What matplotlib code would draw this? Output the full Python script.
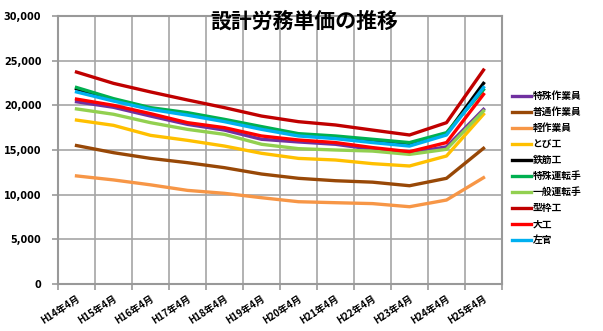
import matplotlib
matplotlib.use('Agg')
import matplotlib.pyplot as plt
from matplotlib.ticker import FuncFormatter

plt.rcParams['font.family'] = ['Noto Sans CJK JP', 'DejaVu Sans']

years = ['H14年4月', 'H15年4月', 'H16年4月', 'H17年4月', 'H18年4月', 'H19年4月',
         'H20年4月', 'H21年4月', 'H22年4月', 'H23年4月', 'H24年4月', 'H25年4月']

tokushu_sagyo = [20400, 19780, 18800, 17870, 17230, 16200, 15900, 15640, 15080, 14700, 15350, 19550]
futsu_sagyo = [15500, 14700, 14060, 13580, 13020, 12310, 11830, 11560, 11400, 11000, 11830, 15190]
kei_sagyo = [12100, 11650, 11100, 10480, 10150, 9660, 9210, 9100, 9000, 8650, 9400, 11900]
tobi = [18350, 17760, 16640, 16080, 15440, 14630, 14060, 13880, 13470, 13210, 14330, 19000]
tekkin = [21850, 20600, 19650, 19050, 18300, 17450, 16700, 16400, 16000, 15640, 16800, 22460]
tokushu_unten = [22000, 20750, 19740, 19180, 18430, 17620, 16830, 16570, 16200, 15830, 16940, 21750]
ippan_unten = [19600, 19000, 18060, 17310, 16750, 15640, 15150, 15000, 14880, 14510, 15080, 19370]
katawaku = [23726, 22460, 21500, 20600, 19740, 18800, 18170, 17800, 17230, 16680, 18060, 23950]
daiku = [20700, 20000, 19070, 18060, 17500, 16570, 16120, 15830, 15270, 14810, 15830, 21230]
sakan = [21500, 20480, 19550, 18900, 18170, 17310, 16570, 16270, 15830, 15440, 16680, 22000]

names = ['特殊作業員', '普通作業員', '軽作業員', 'とび工', '鉄筋工',
         '特殊運転手', '一般運転手', '型枠工', '大工', '左官']
series = [tokushu_sagyo, futsu_sagyo, kei_sagyo, tobi, tekkin,
          tokushu_unten, ippan_unten, katawaku, daiku, sakan]
colors = ['#7030A0', '#984807', '#F79646', '#FFC000', '#000000',
          '#00B050', '#92D050', '#C00000', '#FF0000', '#00B0F0']

fig = plt.figure(figsize=(6.03, 3.31), dpi=100)
ax = fig.add_axes([58 / 603, 1 - 284 / 331, 444 / 603, 268 / 331])

x = list(range(len(years)))
for vals, name, c in zip(series, names, colors):
    ax.plot(x, vals, color=c, lw=2.4, label=name)

ax.set_xlim(-0.5, len(years) - 0.5)
ax.set_ylim(0, 30000)
ax.set_yticks(range(0, 30001, 5000))
ax.yaxis.set_major_formatter(FuncFormatter(lambda v, p: f'{int(v):,}'))
ax.set_xticks(x)
ax.set_xticks([i - 0.5 for i in range(len(years) + 1)], minor=True)
ax.set_xticklabels(years, rotation=33, ha='right', va='top',
                   rotation_mode='anchor', fontsize=7, fontweight='bold')
for lab in ax.get_yticklabels():
    lab.set_family('DejaVu Sans')
    lab.set_fontweight('bold')
    lab.set_fontsize(7)

ax.tick_params(axis='x', which='major', length=0, pad=7)
ax.tick_params(axis='x', which='minor', length=4, color='#999999', width=1.2)
ax.tick_params(axis='y', length=4, color='#999999', width=1.2, pad=8)
ax.grid(True, axis='y', color='#A6A6A6', lw=1.2)
ax.grid(True, axis='x', which='minor', color='#A6A6A6', lw=1.2)
ax.set_axisbelow(True)
for s in ax.spines.values():
    s.set_color('#999999')
    s.set_linewidth(1.5)

fig.text(304 / 603, 1 - 21 / 331, '設計労務単価の推移', ha='center', va='center',
         fontsize=15, fontweight='bold')

fig.legend(loc='upper left', bbox_to_anchor=(512 / 603, 1 - 91 / 331),
           frameon=False, handlelength=2.0, handletextpad=0.1,
           labelspacing=0.62, borderaxespad=0, borderpad=0,
           prop={'weight': 'bold', 'size': 7})

fig.savefig('out.png', dpi=100)
